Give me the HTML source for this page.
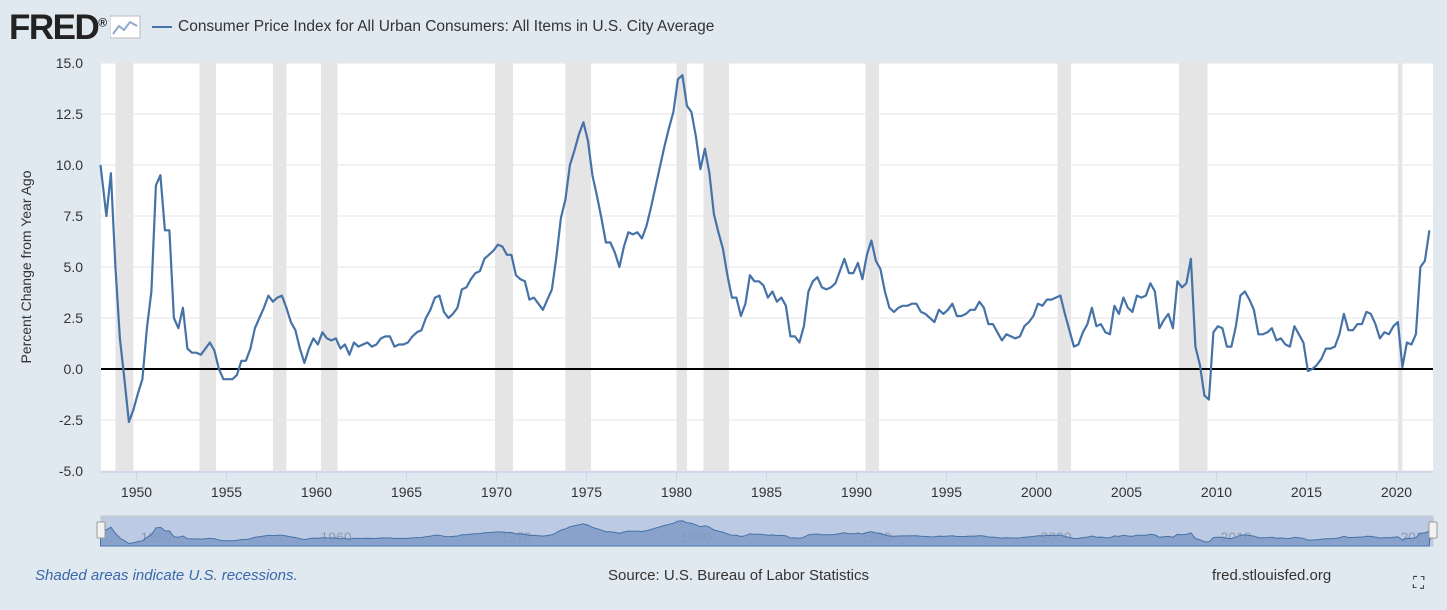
<!DOCTYPE html>
<html><head><meta charset="utf-8"><style>
body{margin:0;width:1447px;height:610px;background:#e1e9f0;font-family:"Liberation Sans",sans-serif;overflow:hidden;position:relative}
.t{position:absolute;white-space:nowrap}
</style></head><body>
<div class="t" style="left:9px;top:8px;font-size:35px;font-weight:bold;color:#222;letter-spacing:-1.5px">FRED<span style="font-size:12px;vertical-align:super">®</span></div>
<svg class="t" style="left:110px;top:14px" width="32" height="26"><rect x="0" y="2" width="30" height="22" fill="#fff" stroke="#bbb"/><polyline points="3,20 9,12 14,16 20,8 27,12" fill="none" stroke="#8fa8c8" stroke-width="2"/></svg>
<div class="t" style="left:152px;top:18px;font-size:15.5px;color:#333"><span style="display:inline-block;width:20px;height:2px;background:#4572a7;vertical-align:middle;margin-right:6px"></span>Consumer Price Index for All Urban Consumers: All Items in U.S. City Average</div>
<svg id="c" width="1447" height="610" style="position:absolute;left:0;top:0"></svg>
<div class="t" style="left:35px;top:567px;font-size:15px;font-style:italic;color:#3a68a8">Shaded areas indicate U.S. recessions.</div>
<div class="t" style="left:608px;top:567px;font-size:15px;color:#333">Source: U.S. Bureau of Labor Statistics</div>
<div class="t" style="left:1212px;top:567px;font-size:15px;color:#333">fred.stlouisfed.org</div>
<div class="t" style="left:1413px;top:575px;font-size:16px;color:#222">⛶</div>
<script>
const years=[];for(let y=1948;y<=2021;y++)years.push(y);
const quarterly=[
[10.0,7.5,9.6,5.0],[1.5,-0.5,-2.6,-2.0],[-1.2,-0.5,2.0,3.8],[9.0,9.5,6.8,6.8],[2.5,2.0,3.0,1.0],
[0.8,0.8,0.7,1.0],[1.3,0.9,0.0,-0.5],[-0.5,-0.5,-0.3,0.4],[0.4,1.0,2.0,2.5],[3.0,3.6,3.3,3.5],
[3.6,3.0,2.3,1.9],[1.0,0.3,1.0,1.5],[1.2,1.8,1.5,1.4],[1.5,1.0,1.2,0.7],[1.3,1.1,1.2,1.3],
[1.1,1.2,1.5,1.6],[1.6,1.1,1.2,1.2],[1.3,1.6,1.8,1.9],[2.5,2.9,3.5,3.6],[2.8,2.5,2.7,3.0],
[3.9,4.0,4.4,4.7],[4.8,5.4,5.6,5.8],[6.1,6.0,5.6,5.6],[4.6,4.4,4.3,3.4],[3.5,3.2,2.9,3.4],
[3.9,5.5,7.4,8.3],[10.0,10.7,11.5,12.1],[11.2,9.5,8.5,7.4],[6.2,6.2,5.7,5.0],[6.0,6.7,6.6,6.7],
[6.4,7.0,7.9,8.9],[9.9,10.9,11.8,12.6],[14.2,14.4,12.9,12.6],[11.4,9.8,10.8,9.6],[7.6,6.7,5.9,4.6],
[3.5,3.5,2.6,3.2],[4.6,4.3,4.3,4.1],[3.5,3.8,3.3,3.5],[3.1,1.6,1.6,1.3],[2.1,3.8,4.3,4.5],
[4.0,3.9,4.0,4.2],[4.8,5.4,4.7,4.7],[5.2,4.4,5.6,6.3],[5.3,4.9,3.8,3.0],[2.8,3.0,3.1,3.1],
[3.2,3.2,2.8,2.7],[2.5,2.3,2.9,2.7],[2.9,3.2,2.6,2.6],[2.7,2.9,2.9,3.3],[3.0,2.2,2.2,1.8],
[1.4,1.7,1.6,1.5],[1.6,2.1,2.3,2.6],[3.2,3.1,3.4,3.4],[3.5,3.6,2.7,1.9],[1.1,1.2,1.8,2.2],
[3.0,2.1,2.2,1.8],[1.7,3.1,2.7,3.5],[3.0,2.8,3.6,3.5],[3.6,4.2,3.8,2.0],[2.4,2.7,2.0,4.3],
[4.0,4.2,5.4,1.1],[0.2,-1.3,-1.5,1.8],[2.1,2.0,1.1,1.1],[2.1,3.6,3.8,3.4],[2.9,1.7,1.7,1.8],
[2.0,1.4,1.5,1.2],[1.1,2.1,1.7,1.3],[-0.1,0.0,0.2,0.5],[1.0,1.0,1.1,1.7],[2.7,1.9,1.9,2.2],
[2.2,2.8,2.7,2.2],[1.5,1.8,1.7,2.1],[2.3,0.1,1.3,1.2],[1.7,5.0,5.3,6.8]];
const recStart=[1948.83,1953.5,1957.58,1960.25,1969.92,1973.83,1980.0,1981.5,1990.5,2001.17,2007.92,2020.08];
const recEnd=[1949.83,1954.42,1958.33,1961.17,1970.92,1975.25,1980.58,1982.92,1991.25,2001.92,2009.5,2020.33];
const yTicks=[-5,-2.5,0,2.5,5,7.5,10,12.5,15];
const xTicks=[1950,1955,1960,1965,1970,1975,1980,1985,1990,1995,2000,2005,2010,2015,2020];
const L=101,R=1433,T=63,B=471;
const X=t=>136.5+(t-1950)*18;
const Y=v=>T+(15-v)*(B-T)/20;
const svg=document.getElementById('c');const NS='http://www.w3.org/2000/svg';
function mk(tag,at,name,inter){const e=document.createElementNS(NS,tag);for(const k in at)e.setAttribute(k,at[k]);


svg.appendChild(e);return e;}
mk('rect',{x:L,y:T,width:R-L,height:B-T,fill:'#fff'},'plot-area',false);
recStart.forEach((s,i)=>{const a=Math.max(L,X(s)),b=X(recEnd[i]);
const r=mk('rect',{x:a,y:T,width:Math.max(2,b-a),height:B-T,fill:'#e5e5e5'},'recession-band',false);});
yTicks.forEach(v=>{mk('line',{x1:L,x2:R,y1:Y(v),y2:Y(v),stroke:'#e6e6e6'},'gridline',false);
const t=mk('text',{x:83,y:Y(v)+5,'text-anchor':'end','font-size':14,fill:'#333'},'y-tick-label',false);t.textContent=v.toFixed(1);});
mk('line',{x1:L,x2:R,y1:Y(0),y2:Y(0),stroke:'#000','stroke-width':2},'zero-line',false);
mk('line',{x1:L,x2:R,y1:B+1,y2:B+1,stroke:'#ccd6eb','stroke-width':1.5},'x-axis-line',false);
xTicks.forEach(y=>{mk('line',{x1:X(y),x2:X(y),y1:B,y2:B+10,stroke:'#ccd6eb'},'x-tick',false);
const t=mk('text',{x:X(y),y:B+26,'text-anchor':'middle','font-size':14,fill:'#333'},'x-tick-label',false);t.textContent=y;});
const yt=mk('text',{x:31,y:267,'text-anchor':'middle','font-size':14,fill:'#333',transform:'rotate(-90 31 267)'},'y-axis-title',false);yt.textContent='Percent Change from Year Ago';
const pts=[];years.forEach((y,i)=>quarterly[i].forEach((v,q)=>{const t=(i==0&&q==0)?1948.0:y+q*0.25+0.08;pts.push([t,v]);}));
mk('polyline',{points:pts.map(p=>X(p[0]).toFixed(1)+','+Y(p[1]).toFixed(1)).join(' '),fill:'none',stroke:'#4572a7','stroke-width':2.2,'stroke-linejoin':'round'},'cpi-series-line',false);
const NT=516,NB=546;const NY=v=>NB-2-(v+3)*(NB-NT-6)/18;
mk('rect',{x:L,y:NT,width:R-L,height:NB-NT,fill:'#bccbe3',stroke:'#c8c8c8'},'navigator',true);
[1950,1960,1970,1980,1990,2000,2010,2020].forEach(y=>{const t=mk('text',{x:X(y)+4,y:NB-4,'font-size':14,fill:'#8d9ab0'},'navigator-label',false);t.textContent=y;});
mk('polygon',{points:X(1948)+','+NB+' '+pts.map(p=>X(p[0]).toFixed(1)+','+NY(p[1]).toFixed(1)).join(' ')+' '+X(pts[pts.length-1][0])+','+NB,fill:'#7f9bc8','fill-opacity':0.85,stroke:'#4572a7'},'navigator-series',false);
[L-4,R-4].forEach(x=>{mk('rect',{x:x,y:NT+6,width:8,height:16,fill:'#f2f2f2',stroke:'#999',rx:1},'navigator-handle',true);});
</script>
</body></html>
